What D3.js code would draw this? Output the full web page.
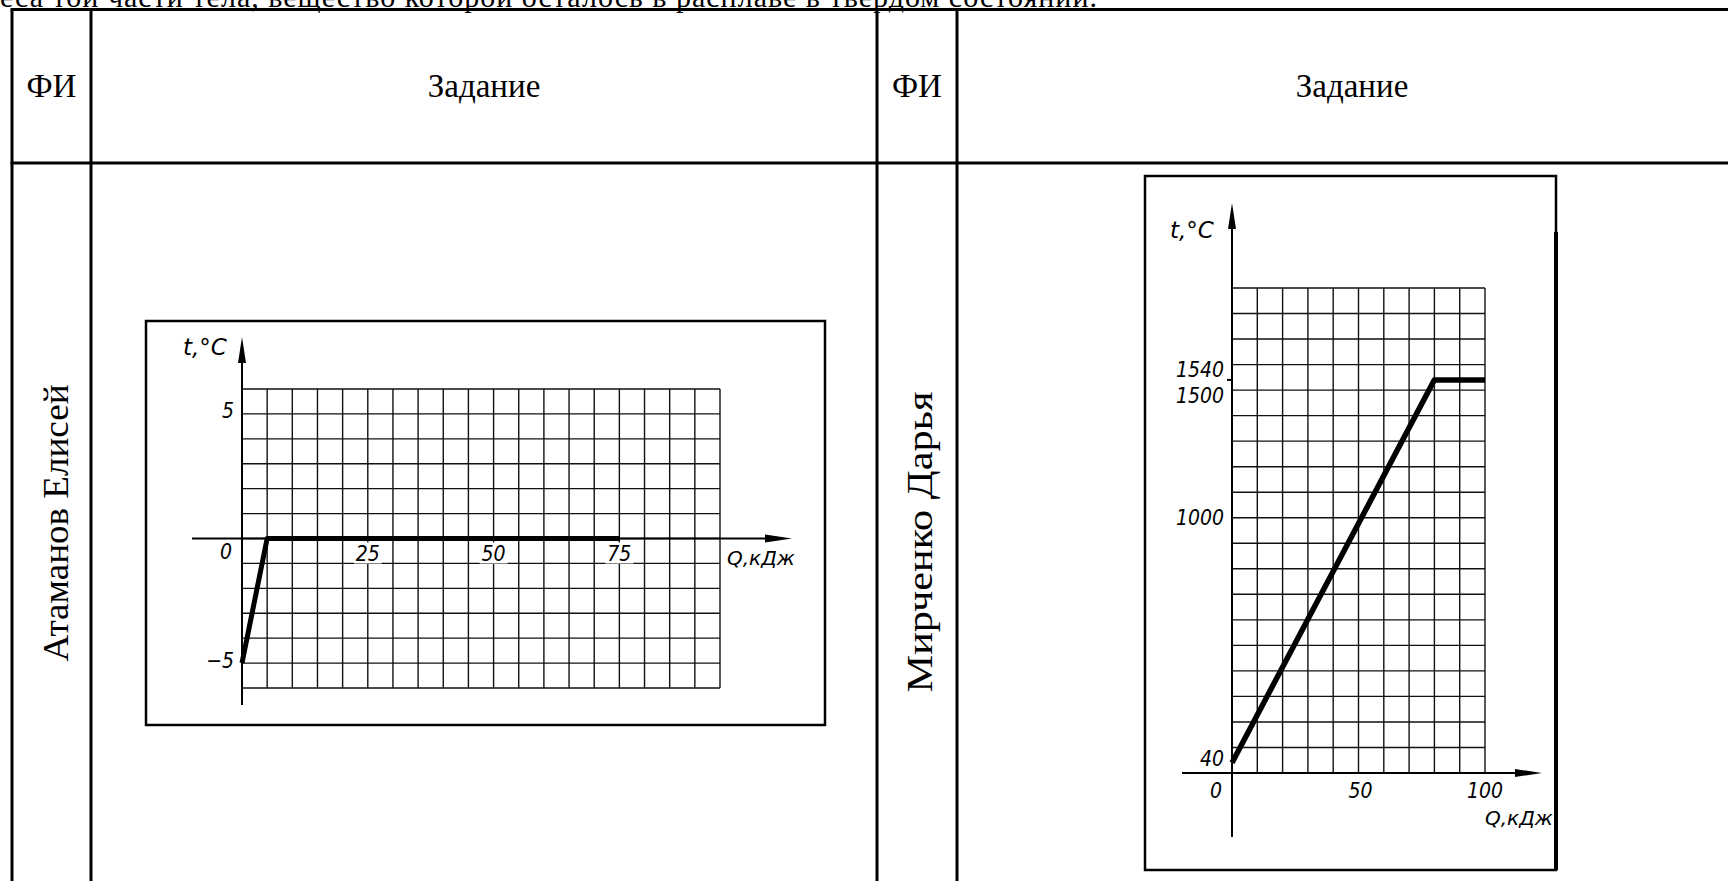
<!DOCTYPE html>
<html>
<head>
<meta charset="utf-8">
<script src="https://cdn.jsdelivr.net/npm/d3@7"></script>
<style>
  html, body { margin: 0; padding: 0; background: #fff; overflow: hidden; }
  .serif { font-family: "Liberation Serif", "Times New Roman", serif; }
  .draft { font-family: "DejaVu Sans Condensed", "DejaVu Sans", sans-serif; font-stretch: condensed; font-style: italic; }
  .title { font-family: "DejaVu Sans", sans-serif; font-style: italic; }
</style>
</head>
<body>
<div id="page"></div>
<script>
// --- table texts ---
const topLine = "еса той части тела, вещество которой осталось в расплаве в твердом состоянии.";
const headers = ["ФИ", "Задание", "ФИ", "Задание"];
const names = ["Атаманов Елисей", "Мирченко Дарья"];

// --- left chart (ice: -5 -> 0 °C, then melting) ---
const leftQ = [0, 5, 75];
const leftT = [-5, 0, 0];
const leftXTicks = [25, 50, 75];
const leftYTicks = [5, -5];

// --- right chart (iron: 40 -> 1540 °C, then melting) ---
const rightQ = [0, 80, 100];
const rightT = [40, 1540, 1540];
const rightXTicks = [0, 50, 100];
const rightYTicks = [40, 1000, 1500, 1540];

const W = 1728, H = 881;
const FS = 21; // drafting font size

const svg = d3.select("#page").append("svg")
    .attr("width", W)
    .attr("height", H);

svg.append("rect").attr("width", W).attr("height", H).attr("fill", "#fff");

// ---------- table ----------
const colX = [12, 91, 877, 957];
const rowY = [9.5, 163];

svg.append("text")
    .attr("class", "serif")
    .attr("x", 0).attr("y", 6.5)
    .attr("font-size", 30)
    .attr("textLength", 1097)
    .attr("lengthAdjust", "spacing")
    .text(topLine);

const tbl = svg.append("g").attr("stroke", "#000").attr("stroke-width", 3);
rowY.forEach(y => tbl.append("line").attr("x1", colX[0] - 1.5).attr("x2", W).attr("y1", y).attr("y2", y));
colX.forEach(x => tbl.append("line").attr("x1", x).attr("x2", x).attr("y1", rowY[0]).attr("y2", H));

const headCenters = [(colX[0] + colX[1]) / 2, (colX[1] + colX[2]) / 2, (colX[2] + colX[3]) / 2, 1352];
svg.selectAll(".head").data(headers).join("text")
    .attr("class", "serif")
    .attr("x", (d, i) => headCenters[i])
    .attr("y", 97)
    .attr("text-anchor", "middle")
    .attr("font-size", 33)
    .text(d => d);

const namePos = [[68, 523], [932, 542]];
const nameLen = [277, 301];
svg.selectAll(".name").data(names).join("text")
    .attr("class", "serif")
    .attr("transform", (d, i) => `translate(${namePos[i][0]},${namePos[i][1]}) rotate(-90)`)
    .attr("text-anchor", "middle")
    .attr("font-size", 36)
    .attr("textLength", (d, i) => nameLen[i])
    .attr("lengthAdjust", "spacingAndGlyphs")
    .text(d => d);

// ---------- chart panels ----------
function drawPanel(p) {
    const g = svg.append("g");
    const x = d3.scaleLinear().domain(p.xDomain).range(p.xRange);
    const y = d3.scaleLinear().domain(p.yDomain).range(p.yRange);
    const x0 = x(0), y0 = y(0);

    // frame
    g.append("rect")
        .attr("x", p.frame[0]).attr("y", p.frame[1])
        .attr("width", p.frame[2] - p.frame[0])
        .attr("height", p.frame[3] - p.frame[1])
        .attr("fill", "none").attr("stroke", "#000").attr("stroke-width", 2.5);
    if (p.thickRight) {
        g.append("line")
            .attr("x1", p.frame[2]).attr("x2", p.frame[2])
            .attr("y1", p.thickRight).attr("y2", p.frame[3])
            .attr("stroke", "#000").attr("stroke-width", 4);
    }

    // grid
    const grid = g.append("g").attr("stroke", "#111").attr("stroke-width", 1.4);
    grid.selectAll(".gx").data(d3.range(p.xDomain[0], p.xDomain[1] + 1e-6, p.xStep)).join("line")
        .attr("x1", d => x(d)).attr("x2", d => x(d))
        .attr("y1", y(p.yDomain[0])).attr("y2", y(p.yDomain[1]));
    grid.selectAll(".gy").data(d3.range(p.yDomain[0], p.yDomain[1] + 1e-6, p.yStep)).join("line")
        .attr("x1", x(p.xDomain[0])).attr("x2", x(p.xDomain[1]))
        .attr("y1", d => y(d)).attr("y2", d => y(d));

    // axes with arrows
    const ax = g.append("g").attr("stroke", "#000").attr("stroke-width", 2);
    ax.append("line").attr("x1", x0).attr("x2", x0).attr("y1", p.yTip + 10).attr("y2", p.yEnd);
    ax.append("line").attr("x1", p.xStart).attr("x2", p.xTip - 10).attr("y1", y0).attr("y2", y0);
    g.append("path")
        .attr("d", `M${x0},${p.yTip} L${x0 - 4},${p.yTip + 26} L${x0 + 4},${p.yTip + 26} Z`)
        .attr("fill", "#000");
    g.append("path")
        .attr("d", `M${p.xTip},${y0} L${p.xTip - 27},${y0 - 4} L${p.xTip - 27},${y0 + 4} Z`)
        .attr("fill", "#000");

    // data line
    const pts = p.q.map((q, i) => [q, p.t[i]]);
    g.append("path")
        .datum(pts)
        .attr("fill", "none")
        .attr("stroke", "#000")
        .attr("stroke-width", p.lineWidth)
        .attr("stroke-linejoin", "round")
        .attr("d", d3.line().x(d => x(d[0])).y(d => y(d[1])));

    // tick marks
    (p.tickMarks || []).forEach(v => {
        g.append("line").attr("x1", x0 - 5).attr("x2", x0).attr("y1", y(v)).attr("y2", y(v))
            .attr("stroke", "#000").attr("stroke-width", 2);
    });

    // x tick labels
    const xl = g.selectAll(".xl").data(p.xTicks).join("g")
        .attr("transform", d => `translate(${x(d) + (p.xNudge[d] || 0)},${y0 + p.xLabelDy})`);
    if (p.xLabelBg) {
        xl.append("rect").attr("x", -14).attr("y", -18).attr("width", 28).attr("height", 21).attr("fill", "#fff");
    }
    xl.append("text")
        .attr("class", "draft")
        .attr("text-anchor", "middle")
        .attr("font-size", FS)
        .text(d => d);

    // y tick labels
    g.selectAll(".yl").data(p.yTicks).join("text")
        .attr("class", "draft")
        .attr("x", x0 - 8)
        .attr("y", d => y(d) + 7.5 + (p.yNudge[d] || 0))
        .attr("text-anchor", "end")
        .attr("font-size", FS)
        .text(d => d < 0 ? "\u2212" + Math.abs(d) : d);

    // zero label at origin
    if (p.zeroLabel) {
        g.append("text").attr("class", "draft")
            .attr("x", p.zeroLabel[0]).attr("y", p.zeroLabel[1])
            .attr("text-anchor", "end").attr("font-size", FS).text("0");
    }

    // axis titles
    g.append("text").attr("class", "title")
        .attr("x", p.tTitle[0]).attr("y", p.tTitle[1]).attr("font-size", 23).text("t,°C");
    g.append("text").attr("class", "title")
        .attr("x", p.qTitle[0]).attr("y", p.qTitle[1]).attr("font-size", 20).text("Q,кДж");
}

drawPanel({
    frame: [146, 321, 825, 725],
    xDomain: [0, 95], xRange: [242, 720], xStep: 5,
    yDomain: [-6, 6], yRange: [688, 389], yStep: 1,
    yTip: 337, yEnd: 705, xStart: 192, xTip: 792,
    q: leftQ, t: leftT, lineWidth: 5,
    xTicks: leftXTicks, xNudge: {}, xLabelDy: 22, xLabelBg: true,
    yTicks: leftYTicks, yNudge: {5: -3, "-5": -3},
    zeroLabel: [232, 559],
    tTitle: [183, 355], qTitle: [727, 565]
});

drawPanel({
    frame: [1145, 176, 1556, 870], thickRight: 232,
    xDomain: [0, 100], xRange: [1232, 1485], xStep: 10,
    yDomain: [0, 1900], yRange: [773, 288], yStep: 100,
    yTip: 203, yEnd: 837, xStart: 1182, xTip: 1542,
    q: rightQ, t: rightT, lineWidth: 5.5,
    xTicks: rightXTicks, xNudge: {0: -16, 50: 2}, xLabelDy: 25, xLabelBg: false,
    yTicks: rightYTicks, yNudge: {40: -4, 1000: 0, 1500: 5, 1540: -10},
    tickMarks: [1540],
    tTitle: [1170, 238], qTitle: [1485, 825]
});
</script>
</body>
</html>
